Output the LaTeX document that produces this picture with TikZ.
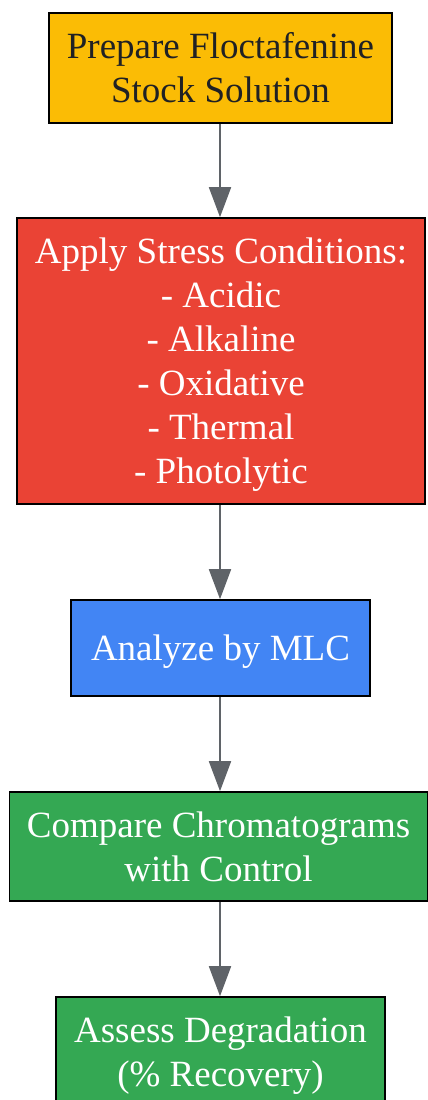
\documentclass[tikz,border=0pt]{standalone}
\usepackage{fontspec}
\setmainfont{Liberation Serif}
\usetikzlibrary{arrows.meta}
\definecolor{cyellow}{HTML}{FBBC05}
\definecolor{cred}{HTML}{EA4335}
\definecolor{cblue}{HTML}{4285F4}
\definecolor{cgreen}{HTML}{34A853}
\definecolor{cgray}{HTML}{5F6368}
\definecolor{cdark}{HTML}{202124}
\newcommand{\ls}{\rule[-9.5pt]{0pt}{44pt}}
\begin{document}
\begin{tikzpicture}[x=1pt,y=-1pt,
  box/.style={draw=black, line width=1.6pt, inner sep=0pt, align=center,
    font=\fontsize{37}{44}\selectfont, text=white},
  conn/.style={draw=cgray, line width=1.8pt, -{Triangle[length=30pt,width=22pt]}}]
\useasboundingbox (0,0) rectangle (428,1100);
\clip (0,0) rectangle (428,1100);
\node[box, fill=cyellow, text=cdark, minimum width=343pt, minimum height=110pt] (a) at (220.5,68) {\ls Prepare Floctafenine\\\ls Stock Solution};
\node[box, fill=cred, minimum width=408pt, minimum height=286pt] (b) at (221,361) {\ls Apply Stress Conditions:\\\ls - Acidic\\\ls - Alkaline\\\ls - Oxidative\\\ls - Thermal\\\ls - Photolytic};
\node[box, fill=cblue, minimum width=299pt, minimum height=96pt] (c) at (220.5,648) {\ls Analyze by MLC};
\node[box, fill=cgreen, minimum width=418pt, minimum height=109pt] (d) at (218.5,846.5) {\ls Compare Chromatograms\\\ls with Control};
\node[box, fill=cgreen, minimum width=329pt, minimum height=110pt] (e) at (220.5,1052) {\ls Assess Degradation\\\ls (\% Recovery)};
\draw[conn] (a.south -| 220,0) -- (b.north -| 220,0);
\draw[conn] (b.south -| 220,0) -- (c.north -| 220,0);
\draw[conn] (c.south -| 220,0) -- (d.north -| 220,0);
\draw[conn] (d.south -| 220,0) -- (e.north -| 220,0);
\end{tikzpicture}
\end{document}
